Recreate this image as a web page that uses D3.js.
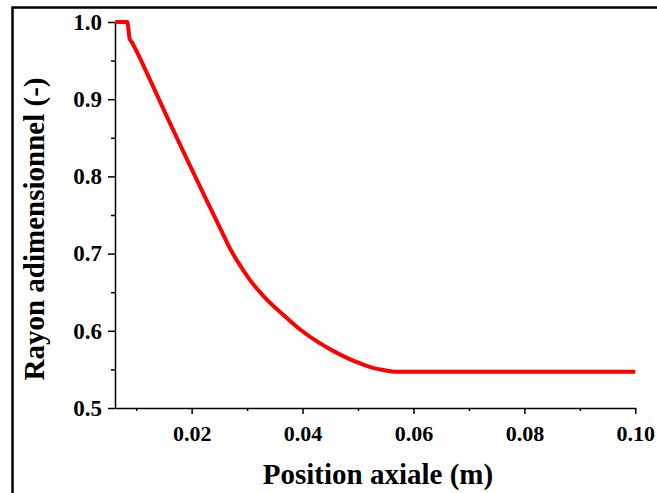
<!DOCTYPE html>
<html>
<head>
<meta charset="utf-8">
<script src="https://cdn.jsdelivr.net/npm/d3@7"></script>
<style>
  html, body { margin: 0; padding: 0; background: #fff; }
  svg { display: block; }
  text { font-family: "Liberation Serif", "Times New Roman", serif; font-weight: bold; fill: #000; }
</style>
</head>
<body>
<svg id="chart" width="657" height="493"></svg>
<script>
// Data
const positions = [0.0062, 0.0084, 0.0088, 0.0092, 0.0125, 0.0155, 0.0185, 0.0205, 0.0227, 0.0248, 0.0269, 0.0287, 0.0305, 0.0332, 0.0360, 0.0395, 0.0431, 0.0455, 0.0480, 0.0503, 0.0527, 0.0548, 0.0567, 0.0600, 0.0700, 0.0800, 0.0900, 0.1000];
const radius    = [1.000, 1.000, 0.979, 0.974, 0.925, 0.878, 0.832, 0.802, 0.769, 0.738, 0.707, 0.685, 0.666, 0.643, 0.624, 0.602, 0.584, 0.574, 0.565, 0.558, 0.552, 0.549, 0.547, 0.547, 0.547, 0.547, 0.547, 0.547];
const xMajorTicks = [0.02, 0.04, 0.06, 0.08, 0.10];
const xMinorTicks = [0.01, 0.03, 0.05, 0.07, 0.09];
const yMajorTicks = [0.5, 0.6, 0.7, 0.8, 0.9, 1.0];
const yMinorTicks = [0.55, 0.65, 0.75, 0.85, 0.95];
const xTitle = "Position axiale (m)";
const yTitle = "Rayon adimensionnel (-)";

(function () {
const svg = d3.select("#chart");

// outer frame (partially visible in reference: left and top edges)
svg.append("path")
  .attr("d", "M12.5,493 L12.5,7.5 L657,7.5")
  .attr("fill", "none").attr("stroke", "#000").attr("stroke-width", 2.5);

const pLeft = 115, pRight = 635.3, pTop = 22, pBottom = 408;
const x = d3.scaleLinear().domain([0.00618, 0.10]).range([pLeft, pRight]);
const y = d3.scaleLinear().domain([0.5, 1.0]).range([pBottom, pTop]);

// X axis
const gx = svg.append("g").attr("transform", `translate(0,${pBottom})`);
gx.call(d3.axisBottom(x).tickValues(xMajorTicks).tickFormat(d3.format(".2f")).tickSize(6).tickPadding(11).tickSizeOuter(0));
gx.append("g").call(d3.axisBottom(x).tickValues(xMinorTicks).tickFormat("").tickSize(3).tickSizeOuter(0))
  .select(".domain").remove();
gx.selectAll("text").style("font-size", "22px").style("font-family", "Liberation Serif").style("font-weight", "bold");

// Y axis
const gy = svg.append("g").attr("transform", `translate(${pLeft},0)`);
gy.call(d3.axisLeft(y).tickValues(yMajorTicks).tickFormat(d3.format(".1f")).tickSize(7).tickPadding(6).tickSizeOuter(0));
gy.append("g").call(d3.axisLeft(y).tickValues(yMinorTicks).tickFormat("").tickSize(4).tickSizeOuter(0))
  .select(".domain").remove();
gy.selectAll("text").style("font-size", "23px").style("font-family", "Liberation Serif").style("font-weight", "bold");

svg.selectAll(".domain, .tick line").attr("stroke", "#000").attr("stroke-width", 1.5);

// line
const line = d3.line().x((d, i) => x(positions[i])).y(d => y(d)).curve(d3.curveMonotoneX);
svg.append("path")
  .datum(radius)
  .attr("d", line)
  .attr("fill", "none")
  .attr("stroke", "#ff0000")
  .attr("stroke-width", 4)
  .attr("stroke-linejoin", "round");

// titles
svg.append("text")
  .attr("x", 378).attr("y", 484)
  .attr("text-anchor", "middle")
  .style("font-size", "29px")
  .text(xTitle);

svg.append("text")
  .attr("transform", "translate(44,229) rotate(-90)")
  .attr("text-anchor", "middle")
  .style("font-size", "29px")
  .text(yTitle);
})();
</script>
</body>
</html>
